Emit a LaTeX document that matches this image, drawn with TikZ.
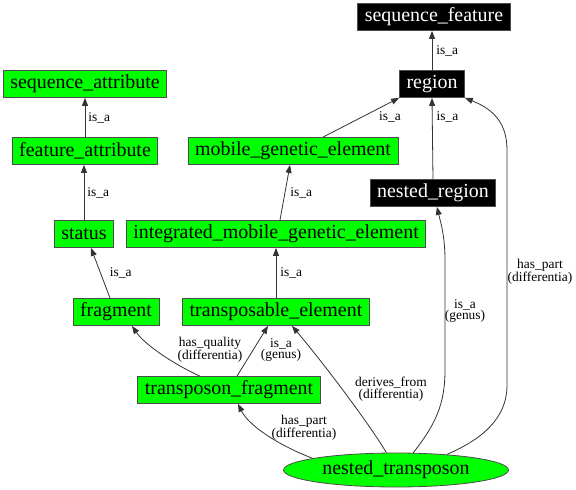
\documentclass[tikz,border=0pt]{standalone}
\usepackage{fontspec}
\setmainfont{Liberation Serif}
\usepackage{tikz}
\usetikzlibrary{arrows.meta,shapes.geometric}
\definecolor{termgreen}{RGB}{0,255,0}
\tikzstyle{term} = [rectangle, draw=black!70, line width=0.8bp, fill=termgreen, minimum height=27bp, inner xsep=7bp, inner ysep=0pt, font=\fontsize{20}{22}\selectfont]
\tikzstyle{dark} = [term, fill=black, text=white]
\tikzstyle{leaf} = [ellipse, draw=black!70, line width=0.8bp, fill=termgreen, minimum width=225bp, minimum height=34bp, inner sep=0pt, font=\fontsize{20}{22}\selectfont]
\tikzstyle{link} = [draw=black!80, line width=0.8bp, -{Triangle[length=8bp,width=6bp]}]
\tikzstyle{rel} = [font=\fontsize{13.5}{12}\selectfont, align=center, inner sep=0pt]

\begin{document}
\begin{tikzpicture}[x=1bp, y=-1bp]
    \useasboundingbox (0,0) rectangle (576,490);
    \node[dark] (sf) at (434,17) {sequence\_feature};
    \node[dark] (region) at (432,84) {region};
    \node[term] (sa) at (85,84) {sequence\_attribute};
    \node[term] (fa) at (85,151) {feature\_attribute};
    \node[term] (mge) at (293,151) {mobile\_genetic\_element};
    \node[dark] (nr) at (433,193) {nested\_region};
    \node[term] (status) at (84,234) {status};
    \node[term] (imge) at (276,234) {integrated\_mobile\_genetic\_element};
    \node[term] (fragment) at (116,312) {fragment};
    \node[term] (te) at (276,312) {transposable\_element};
    \node[term] (tf) at (229,390) {transposon\_fragment};
    \node[leaf] (nt) at (396,470) {nested\_transposon};

    \draw[link] (region.north) -- node[rel, right=4bp] {is\_a} (region.north |- sf.south);
    \draw[link] (fa.north) -- node[rel, right=3bp] {is\_a} (sa.south);
    \draw[link] (status.north) -- node[rel, right=3bp] {is\_a} (status.north |- fa.south);
    \draw[link] ([xshift=30bp]mge.north) -- (region.south west) node[rel] at (390,117) {is\_a};
    \draw[link] (nr.north) -- node[rel, right=4bp, pos=0.77] {is\_a} (region.south);
    \draw[link] ([xshift=4bp]imge.north) -- node[rel, right=5bp] {is\_a} ([xshift=-3bp]mge.south);
    \draw[link] ([xshift=-6bp]fragment.north) -- node[rel, right=9bp] {is\_a} ([xshift=7bp]status.south);
    \draw[link] (te.north) -- node[rel, right=4bp] {is\_a} (imge.south);
    \draw[link] ([xshift=-29bp]tf.north) .. controls (175,365) and (145,345) .. ([xshift=16bp]fragment.south)
        node[rel] at (210,350) {has\_quality\\(differentia)};
    \draw[link] ([xshift=8bp]tf.north) -- ([xshift=-8bp]te.south)
        node[rel] at (281,350) {is\_a\\(genus)};
    \draw[link] (nt.119) .. controls (370,425) and (325,365) .. ([xshift=16bp]te.south)
        node[rel] at (391,389) {derives\_from\\(differentia)};
    \draw[link] (nt.172) .. controls (285,448) and (250,428) .. ([xshift=9bp]tf.south)
        node[rel] at (304,428) {has\_part\\(differentia)};
    \draw[link] (nt.45) .. controls (435,425) and (445,405) .. (445,370) -- (445,260)
        .. controls (445,235) and (440,220) .. ([xshift=4bp]nr.south)
        node[rel] at (465,311) {is\_a\\(genus)};
    \draw[link] (nt.17) .. controls (480,440) and (507,420) .. (507,385) -- (507,150)
        .. controls (507,120) and (490,108) .. (region.south east)
        node[rel] at (540,272) {has\_part\\(differentia)};
\end{tikzpicture}
\end{document}
